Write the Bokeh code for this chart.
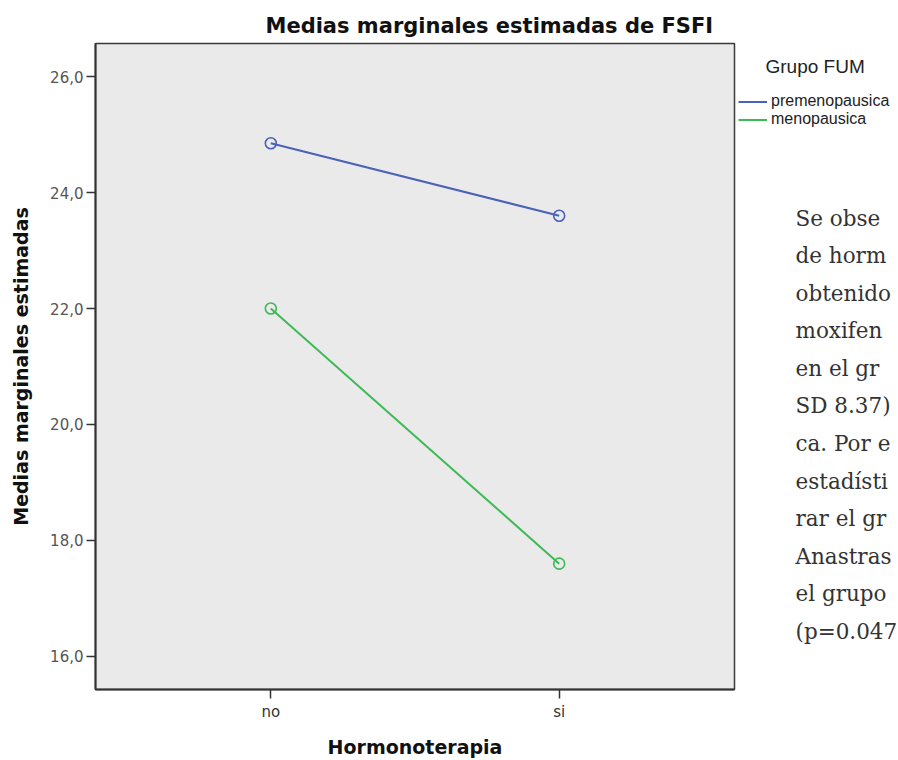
from bokeh.plotting import figure
from bokeh.layouts import row
from bokeh.models import FactorRange, Range1d, FixedTicker, Legend, LegendItem, Label
from bokeh.embed import file_html
from bokeh.resources import INLINE

# ---- data ----
hormonoterapia = ["no", "si"]
premenopausica = [24.85, 23.60]
menopausica = [22.00, 17.60]
group_names = ["premenopausica", "menopausica"]
y_ticks = [16, 18, 20, 22, 24, 26]
y_tick_labels = ["16,0", "18,0", "20,0", "22,0", "24,0", "26,0"]
paragraph = ["Se obse", "de horm", "obtenido", "moxifen", "en el gr", "SD 8.37)",
             "ca. Por e", "estadísti", "rar el gr", "Anastras", "el grupo", "(p=0.047"]

BLUE = "#4A62B8"
GREEN = "#3DBA55"

TOP, BOTTOM = 43, 70
H = 760

p = figure(width=736, height=H,
           x_range=FactorRange(*hormonoterapia, range_padding=0.108),
           y_range=Range1d(15.43, 26.57),
           output_backend="svg", toolbar_location=None,
           min_border_left=95, min_border_right=2,
           min_border_top=TOP, min_border_bottom=BOTTOM,
           title="Medias marginales estimadas de FSFI")

p.background_fill_color = "#EAEAEA"
p.border_fill_color = "white"
p.outline_line_color = "#3a3a3a"
p.outline_line_width = 1.5
p.xgrid.visible = False
p.ygrid.visible = False

p.title.align = "left"
p.title.offset = 170
p.title.standoff = 11
p.title.text_font = "DejaVu Sans"
p.title.text_font_style = "bold"
p.title.text_font_size = "21px"
p.title.text_color = "#111111"

for ax in (p.xaxis[0], p.yaxis[0]):
    ax.axis_line_color = "#333333"
    ax.axis_line_width = 2
    ax.major_tick_line_color = "#333333"
    ax.major_tick_line_width = 1.5
    ax.major_tick_out = 9
    ax.major_tick_in = 0
    ax.minor_tick_line_color = None
    ax.major_label_text_font = "DejaVu Sans"
    ax.major_label_text_font_size = "15px"
    ax.axis_label_text_font = "DejaVu Sans"
    ax.axis_label_text_font_style = "bold"
    ax.axis_label_text_font_size = "19px"
    ax.axis_label_text_color = "#111111"

p.yaxis.ticker = FixedTicker(ticks=y_ticks)
p.yaxis.major_label_overrides = {t: l for t, l in zip(y_ticks, y_tick_labels)}
p.yaxis.major_label_text_color = "#555555"
p.yaxis.major_label_standoff = 3
p.yaxis.axis_label = "Medias marginales estimadas"
p.yaxis.axis_label_standoff = 15

p.xaxis.major_label_text_color = "#333333"
p.xaxis.major_label_standoff = 4
p.xaxis.axis_label = "Hormonoterapia"
p.xaxis.axis_label_standoff = 12

series = ((group_names[0], premenopausica, BLUE), (group_names[1], menopausica, GREEN))
for name, vals, col in series:
    p.line(hormonoterapia, vals, line_color=col, line_width=2)
    p.scatter(hormonoterapia, vals, marker="circle", size=11, fill_color=None,
              line_color=col, line_width=1.6)

# ---- side panel: legend + page text ----
s = figure(width=162, height=H, x_range=Range1d(0, 162), y_range=Range1d(H - BOTTOM, TOP),
           output_backend="svg", toolbar_location=None,
           x_axis_location=None, y_axis_location=None,
           min_border_left=0, min_border_right=0,
           min_border_top=TOP, min_border_bottom=BOTTOM)
s.outline_line_color = None
s.background_fill_color = "white"
s.border_fill_color = "white"
s.xgrid.visible = False
s.ygrid.visible = False

items = []
for name, vals, col in series:
    r = s.line([0, 1], [-100, -100], line_color=col, line_width=2)
    items.append(LegendItem(label=name, renderers=[r]))

legend = Legend(items=items, location=(2, 561),
                glyph_width=29, glyph_height=17, label_height=17, label_standoff=4,
                spacing=0, padding=0, margin=0,
                label_text_font="Liberation Sans", label_text_font_size="16px",
                label_text_color="#222222",
                background_fill_alpha=0, border_line_alpha=0)
s.add_layout(legend)

s.add_layout(Label(x=29, y=66, text="Grupo FUM",
                   text_font="Liberation Sans", text_font_size="19px", text_color="#222222",
                   text_baseline="alphabetic"))

for i, line in enumerate(paragraph):
    s.add_layout(Label(x=59, y=218 + i * 37.6, text=line,
                       text_font="DejaVu Serif", text_font_size="21.5px", text_color="#333333",
                       text_baseline="alphabetic"))

layout = row(p, s, spacing=0)
open("out.html", "w").write(file_html(layout, INLINE))
